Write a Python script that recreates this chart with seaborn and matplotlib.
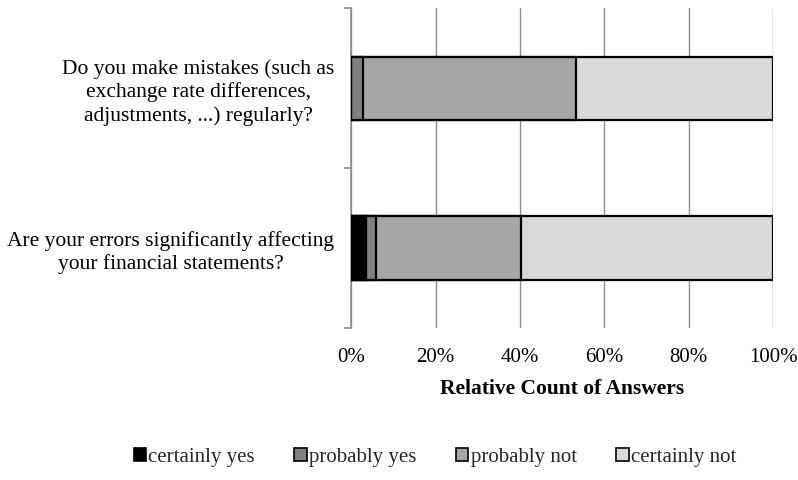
import numpy as np
import pandas as pd
import matplotlib
matplotlib.use("Agg")
import matplotlib.pyplot as plt
from matplotlib.patches import Patch
from matplotlib.ticker import FixedLocator, PercentFormatter
import seaborn as sns

questions = [
    "Do you make mistakes (such as\nexchange rate differences,\nadjustments, ...) regularly?",
    "Are your errors significantly affecting\nyour financial statements?",
]
answers = ["certainly yes", "probably yes", "probably not", "certainly not"]
certainly_yes = [0.0, 3.5]
probably_yes = [2.9, 2.4]
probably_not = [50.3, 34.4]
certainly_not = [46.8, 59.7]
colors = ["#000000", "#808080", "#a6a6a6", "#d9d9d9"]

sns.set_theme(style="white")
plt.rcParams["font.family"] = ["Liberation Serif", "DejaVu Serif"]

fig = plt.figure(figsize=(7.98, 4.8), dpi=100)
ax = fig.add_axes([0.44, 0.3167, 0.5287, 0.6663])

shares = np.array([certainly_yes, probably_yes, probably_not, certainly_not])
cum = np.cumsum(shares, axis=0)

# stacked bars: draw the cumulative totals from the outermost segment inward
for i in range(len(answers) - 1, -1, -1):
    df = pd.DataFrame({"question": questions, "value": cum[i]})
    sns.barplot(data=df, x="value", y="question", order=questions, orient="h",
                color=colors[i], edgecolor="black", linewidth=1.6,
                width=0.395, saturation=1, ax=ax, zorder=3)

ax.set_xlim(0, 100)
ax.set_ylim(1.5, -0.5)
ax.xaxis.set_major_locator(FixedLocator([0, 20, 40, 60, 80, 100]))
ax.xaxis.set_major_formatter(PercentFormatter(decimals=0))
ax.grid(axis="x", color="#8c8c8c", linewidth=1.0, zorder=0)
ax.grid(axis="y", visible=False)

for side in ["top", "right", "bottom"]:
    ax.spines[side].set_visible(False)
ax.spines["left"].set_color("#8c8c8c")
ax.spines["left"].set_linewidth(1.2)

ax.yaxis.set_minor_locator(FixedLocator([-0.5, 0.5, 1.5]))
ax.tick_params(axis="y", which="major", length=0, pad=12, labelsize=15.5,
               colors="black")
ax.tick_params(axis="y", which="minor", left=True, length=5, width=1.2,
               color="#8c8c8c")
ax.tick_params(axis="x", which="major", length=0, pad=14.5, labelsize=15,
               colors="black")
for lbl in ax.get_yticklabels():
    lbl.set_multialignment("center")
    lbl.set_linespacing(1.25)

ax.set_ylabel("")
ax.set_xlabel("Relative Count of Answers", fontsize=15.5, fontweight="bold",
              labelpad=8.5, color="black")

handles = [Patch(facecolor=c, edgecolor="black", linewidth=1.2, label=a)
           for a, c in zip(answers, colors)]
fig.legend(handles=handles, loc="center", bbox_to_anchor=(0.545, 0.047),
           ncol=4, frameon=False, fontsize=15, handlelength=0.6,
           handleheight=0.6, handletextpad=0.1, columnspacing=1.9)

fig.savefig("out.png", dpi=100)
